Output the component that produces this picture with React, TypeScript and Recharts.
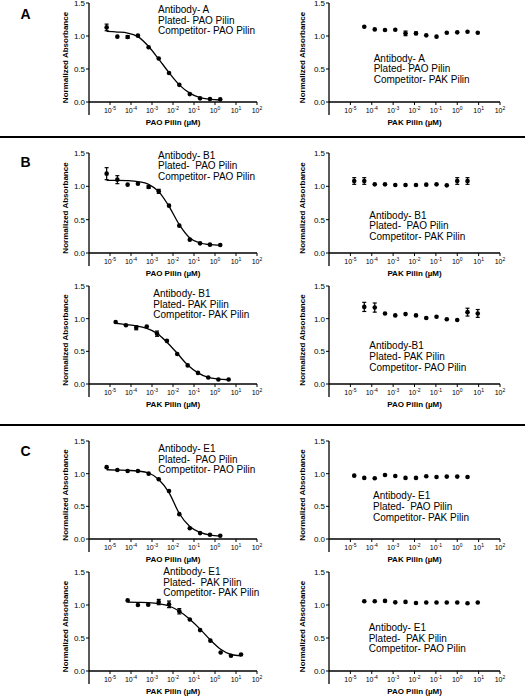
import React from 'react';
import { ComposedChart, Line, Scatter, XAxis, YAxis, ErrorBar, Label } from 'recharts';

// log10 of competitor concentration (µM)
const doseLeftA = [-5.16, -4.65, -4.16, -3.67, -3.16, -2.68, -2.19, -1.7, -1.2, -0.71, -0.24, 0.25];
const doseLeftB = [-4.73, -4.24, -3.75, -3.25, -2.76, -2.29, -1.8, -1.3, -0.81, -0.32, 0.16, 0.65];
const doseLeftC = [-4.16, -3.67, -3.18, -2.68, -2.19, -1.7, -1.2, -0.71, -0.22, 0.27, 0.76, 1.24];
const doseRightA = [-4.35, -3.86, -3.38, -2.9, -2.42, -1.93, -1.45, -0.97, -0.49, 0.0, 0.48, 0.96];
const doseRightB = [-4.82, -4.35, -3.86, -3.38, -2.9, -2.42, -1.93, -1.45, -0.97, -0.49, 0.0, 0.48];

const xTicks = [-5, -4, -3, -2, -1, 0, 1, 2];
const yTicks = [0, 0.5, 1, 1.5];

// A
const absA1 = [1.13, 0.99, 0.985, 1.005, 0.83, 0.66, 0.44, 0.26, 0.12, 0.055, 0.045, 0.04];
const errA1 = [0.05, 0, 0.02, 0, 0, 0, 0, 0, 0, 0, 0, 0];
const fitA1 = [1.07, 1.06, 1.045, 0.99, 0.84, 0.65, 0.445, 0.26, 0.135, 0.065, 0.04, 0.03];
const absA2 = [1.14, 1.1, 1.09, 1.095, 1.04, 1.04, 1.01, 0.99, 1.05, 1.055, 1.065, 1.05];
const errA2 = [0, 0, 0, 0, 0.035, 0.02, 0, 0, 0, 0, 0, 0];

// B
const absB1 = [1.19, 1.1, 1.025, 1.04, 0.99, 0.925, 0.71, 0.41, 0.2, 0.145, 0.125, 0.12];
const errB1 = [0.09, 0.06, 0, 0, 0.02, 0.03, 0, 0, 0, 0, 0, 0];
const fitB1 = [1.09, 1.09, 1.085, 1.07, 1.03, 0.92, 0.7, 0.425, 0.225, 0.15, 0.125, 0.115];
const absB2 = [1.08, 1.08, 1.03, 1.03, 1.02, 1.02, 1.02, 1.025, 1.03, 1.015, 1.08, 1.08];
const errB2 = [0.05, 0.05, 0, 0, 0, 0, 0, 0, 0, 0, 0.05, 0.05];
const absB3 = [0.95, 0.9, 0.86, 0.88, 0.77, 0.66, 0.46, 0.285, 0.17, 0.1, 0.07, 0.07];
const errB3 = [0, 0, 0.03, 0, 0.04, 0, 0, 0, 0, 0, 0, 0];
const fitB3 = [0.93, 0.91, 0.89, 0.85, 0.775, 0.64, 0.47, 0.29, 0.17, 0.1, 0.075, 0.065];
const absB4 = [1.18, 1.17, 1.08, 1.05, 1.07, 1.05, 1.01, 1.03, 0.99, 0.98, 1.1, 1.08];
const errB4 = [0.07, 0.07, 0, 0, 0, 0, 0, 0, 0, 0, 0.06, 0.06];

// C
const absC1 = [1.1, 1.055, 1.04, 1.04, 1.0, 0.915, 0.735, 0.38, 0.165, 0.09, 0.065, 0.05];
const fitC1 = [1.06, 1.055, 1.05, 1.04, 1.01, 0.91, 0.71, 0.39, 0.19, 0.1, 0.06, 0.045];
const absC2 = [0.97, 0.935, 0.93, 0.98, 0.965, 0.935, 0.935, 0.96, 0.95, 0.955, 0.955, 0.95];
const absC3 = [1.07, 1.0, 1.005, 1.045, 1.01, 0.905, 0.78, 0.62, 0.46, 0.28, 0.23, 0.25];
const errC3 = [0, 0, 0, 0.04, 0.05, 0.04, 0, 0, 0, 0, 0, 0];
const fitC3 = [1.045, 1.04, 1.035, 1.02, 0.985, 0.905, 0.785, 0.635, 0.47, 0.33, 0.25, 0.23];
const absC4 = [1.057, 1.057, 1.062, 1.04, 1.047, 1.03, 1.037, 1.037, 1.037, 1.037, 1.027, 1.037];

const FONT = '"Liberation Sans", Arial, Helvetica, sans-serif';

const SIDES = {
  left: { chartLeft: 0, plotLeft: 89, plotRight: 257, yTitleGap: 21 },
  right: { chartLeft: 262, plotLeft: 329, plotRight: 500, yTitleGap: 24.5 },
};

function PowTick(props: any) {
  const { x, y, payload } = props;
  return (
    <text x={x} y={y + 5.5} textAnchor="middle" fontSize={7} fontFamily={FONT} fill="#000">
      10<tspan dy={-3} fontSize={5}>{String(payload.value)}</tspan>
    </text>
  );
}

function Dot(props: any) {
  return <circle cx={props.cx} cy={props.cy} r={2.3} fill="#000" />;
}

type PanelProps = {
  side: 'left' | 'right';
  plotTop: number;
  plotBottom: number;
  dose: number[];
  abs: number[];
  err?: number[];
  fit?: number[];
  xTitle: string;
};

function Panel(p: PanelProps) {
  const s = SIDES[p.side];
  const plotH = p.plotBottom - p.plotTop;
  const padTop = 8;
  const xAxisH = 30;
  const padRight = 14;
  const width = s.plotRight - s.chartLeft + padRight;
  const height = padTop + plotH + xAxisH;
  const points = p.dose.map((x, i) => ({ x, y: p.abs[i], err: p.err ? p.err[i] : 0 }));
  const curve = p.fit ? p.dose.map((x, i) => ({ x, y: p.fit![i] })) : null;
  const axisX = s.plotLeft - s.chartLeft;
  const yLabelX = axisX - s.yTitleGap;
  const yLabelY = padTop + plotH / 2 + 5;

  return (
    <div style={{ position: 'absolute', left: s.chartLeft, top: p.plotTop - padTop }}>
      <ComposedChart width={width} height={height} margin={{ top: padTop, right: padRight, bottom: 0, left: 0 }}>
        <XAxis
          type="number"
          dataKey="x"
          domain={[-6, 2]}
          ticks={xTicks}
          interval={0}
          allowDataOverflow
          height={xAxisH}
          tick={<PowTick />}
          tickSize={3}
          tickMargin={2}
          axisLine={{ stroke: '#000', strokeWidth: 1.3 }}
          tickLine={{ stroke: '#000' }}
        >
          <Label
            content={() => (
              <text
                x={(s.plotLeft + s.plotRight) / 2 - s.chartLeft}
                y={padTop + plotH + 23}
                textAnchor="middle"
                fontSize={8}
                fontWeight="bold"
                fontFamily={FONT}
                fill="#000"
              >
                {p.xTitle}
              </text>
            )}
          />
        </XAxis>
        <YAxis
          type="number"
          dataKey="y"
          domain={[0, 1.5]}
          ticks={yTicks}
          allowDataOverflow
          width={axisX}
          tickFormatter={(v: number) => v.toFixed(1)}
          tick={{ fontSize: 8, fill: '#000', fontFamily: FONT }}
          tickSize={3}
          tickMargin={1}
          axisLine={{ stroke: '#000', strokeWidth: 1.3 }}
          tickLine={{ stroke: '#000' }}
        >
          <Label
            content={() => (
              <g>
                {/* Prism-style y axis running on past the x axis */}
                <line x1={axisX} y1={padTop + plotH} x2={axisX} y2={padTop + plotH + 13} stroke="#000" strokeWidth={1.3} />
                <text
                  x={yLabelX}
                  y={yLabelY}
                  transform={`rotate(-90 ${yLabelX} ${yLabelY})`}
                  textAnchor="middle"
                  fontSize={8}
                  fontWeight="bold"
                  fontFamily={FONT}
                  fill="#000"
                >
                  Normalized Absorbance
                </text>
              </g>
            )}
          />
        </YAxis>
        {curve && (
          <Line
            data={curve}
            dataKey="y"
            type="monotone"
            stroke="#000"
            strokeWidth={1.3}
            dot={false}
            activeDot={false}
            isAnimationActive={false}
          />
        )}
        <Scatter data={points} dataKey="y" fill="#000" shape={Dot} isAnimationActive={false}>
          <ErrorBar dataKey="err" direction="y" width={2} stroke="#000" strokeWidth={1.2} />
        </Scatter>
      </ComposedChart>
    </div>
  );
}

const notes: { x: number; y: number; lines: string[] }[] = [
  { x: 158, y: 13, lines: ['Antibody- A', 'Plated- PAO Pilin', 'Competitor- PAO Pilin'] },
  { x: 373.7, y: 61.5, lines: ['Antibody- A', 'Plated- PAO Pilin', 'Competitor- PAK Pilin'] },
  { x: 158, y: 158.5, lines: ['Antibody- B1', 'Plated-  PAO Pilin', 'Competitor- PAO Pilin'] },
  { x: 369.3, y: 218.7, lines: ['Antibody- B1', 'Plated-  PAO Pilin', 'Competitor- PAK Pilin'] },
  { x: 153.3, y: 297, lines: ['Antibody- B1', 'Plated- PAK Pilin', 'Competitor- PAK Pilin'] },
  { x: 369.3, y: 349.3, lines: ['Antibody-B1', 'Plated- PAK Pilin', 'Competitor- PAO Pilin'] },
  { x: 158.3, y: 452, lines: ['Antibody- E1', 'Plated-  PAO Pilin', 'Competitor- PAO Pilin'] },
  { x: 373, y: 499.3, lines: ['Antibody- E1', 'Plated-  PAO Pilin', 'Competitor- PAK Pilin'] },
  { x: 163.3, y: 575, lines: ['Antibody- E1', 'Plated-  PAK Pilin', 'Competitor- PAK Pilin'] },
  { x: 368.7, y: 631, lines: ['Antibody- E1', 'Plated-  PAK Pilin', 'Competitor- PAO Pilin'] },
];

const letters = [
  { t: 'A', x: 20.5, y: 18.5 },
  { t: 'B', x: 20.5, y: 167 },
  { t: 'C', x: 20.5, y: 456 },
];

export default function App() {
  return (
    <div style={{ position: 'absolute', left: 0, top: 0, width: 525, height: 697, background: '#fff', overflow: 'hidden' }}>
      <Panel side="left" plotTop={3} plotBottom={102} dose={doseLeftA} abs={absA1} err={errA1} fit={fitA1} xTitle="PAO Pilin (µM)" />
      <Panel side="right" plotTop={3} plotBottom={102} dose={doseRightA} abs={absA2} err={errA2} xTitle="PAK Pilin (µM)" />
      <Panel side="left" plotTop={153} plotBottom={253} dose={doseLeftA} abs={absB1} err={errB1} fit={fitB1} xTitle="PAO Pilin (µM)" />
      <Panel side="right" plotTop={153} plotBottom={253} dose={doseRightB} abs={absB2} err={errB2} xTitle="PAK Pilin (µM)" />
      <Panel side="left" plotTop={286} plotBottom={384} dose={doseLeftB} abs={absB3} err={errB3} fit={fitB3} xTitle="PAK Pilin (µM)" />
      <Panel side="right" plotTop={286} plotBottom={384} dose={doseRightA} abs={absB4} err={errB4} xTitle="PAO Pilin (µM)" />
      <Panel side="left" plotTop={441} plotBottom={539} dose={doseLeftA} abs={absC1} fit={fitC1} xTitle="PAO Pilin (µM)" />
      <Panel side="right" plotTop={441} plotBottom={539} dose={doseRightB} abs={absC2} xTitle="PAK Pilin (µM)" />
      <Panel side="left" plotTop={572} plotBottom={671} dose={doseLeftC} abs={absC3} err={errC3} fit={fitC3} xTitle="PAK Pilin (µM)" />
      <Panel side="right" plotTop={572} plotBottom={671} dose={doseRightA} abs={absC4} xTitle="PAO Pilin (µM)" />
      <svg width={525} height={697} style={{ position: 'absolute', left: 0, top: 0, pointerEvents: 'none' }}>
        <line x1={0} y1={137} x2={525} y2={137} stroke="#000" strokeWidth={2} />
        <line x1={0} y1={425} x2={525} y2={425} stroke="#000" strokeWidth={2} />
        {letters.map((l) => (
          <text key={l.t} x={l.x} y={l.y} fontSize={14} fontWeight="bold" fontFamily={FONT} fill="#000">
            {l.t}
          </text>
        ))}
        {notes.map((n, i) => (
          <text key={i} fontSize={10} fontFamily={FONT} fill="#000" style={{ whiteSpace: 'pre' }}>
            {n.lines.map((ln, j) => (
              <tspan key={j} x={n.x} y={n.y + j * 10.6}>
                {ln}
              </tspan>
            ))}
          </text>
        ))}
      </svg>
    </div>
  );
}
